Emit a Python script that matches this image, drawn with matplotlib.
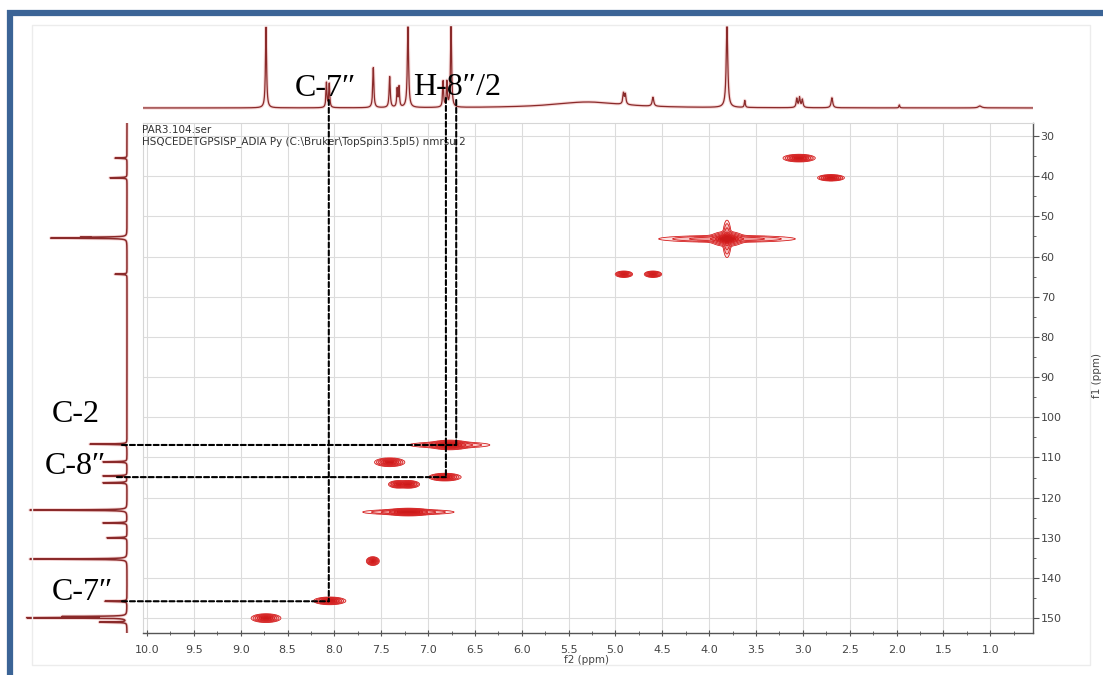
import numpy as np
import matplotlib
matplotlib.use("Agg")
import matplotlib.pyplot as plt
from matplotlib.patches import ConnectionPatch, Rectangle
from matplotlib.lines import Line2D
from matplotlib.ticker import MultipleLocator

W, H, DPI = 1103, 675, 100

# ---- 1H projection (f2): shift ppm, height, half-width ppm ----
h1_shift = [8.73, 8.085, 8.055, 7.585, 7.41, 7.33, 7.31, 7.215, 6.84, 6.80, 6.755,
            5.30, 4.915, 4.895, 4.60, 3.81, 3.62, 3.065, 3.035, 3.005, 2.69, 1.97, 1.11]
h1_height = [81, 25, 24, 40, 31, 18, 20, 81, 26, 25, 81,
             6, 11, 10, 9, 81, 7, 9, 10, 8, 10, 3, 2]
h1_width = [0.007, 0.006, 0.006, 0.007, 0.007, 0.006, 0.006, 0.008, 0.006, 0.006, 0.007,
            0.45, 0.008, 0.008, 0.010, 0.010, 0.006, 0.008, 0.008, 0.008, 0.010, 0.005, 0.02]

# ---- 13C projection (f1): shift ppm, height ----
c13_shift = [35.5, 40.4, 55.2, 55.4, 64.4, 106.7, 111.1, 114.6, 116.3, 123.1, 126.3,
             130.0, 135.3, 145.8, 149.6, 149.9, 151.0]
c13_height = [12, 17, 39, 72, 12, 37, 24, 24, 24, 97, 24,
              20, 97, 22, 60, 97, 27]
c13_width = 0.07

# ---- HSQC cross peaks: f2 ppm, f1 ppm, amplitude, sigma f2, sigma f1 ----
xp_h = [3.04, 2.70, 3.81, 3.81, 3.81, 4.91, 4.60, 6.77, 6.77, 7.41, 6.82, 7.32, 7.21,
        7.21, 7.21, 7.59, 8.05, 8.73]
xp_c = [35.5, 40.4, 55.6, 55.6, 55.6, 64.4, 64.4, 106.9, 106.9, 111.2, 114.9, 116.7, 116.7,
        123.6, 123.6, 135.8, 145.7, 150.0]
xp_amp = [1.0, 1.0, 1.0, 0.30, 0.35, 1.0, 1.0, 1.0, 0.30, 1.0, 1.0, 0.8, 1.0,
          1.0, 0.35, 1.0, 1.0, 1.0]
xp_sh = [0.065, 0.054, 0.07, 0.34, 0.02, 0.035, 0.035, 0.08, 0.20, 0.061, 0.065, 0.04, 0.045,
         0.09, 0.22, 0.026, 0.065, 0.06]
xp_sc = [0.36, 0.30, 0.7, 0.40, 2.1, 0.30, 0.30, 0.45, 0.35, 0.41, 0.36, 0.36, 0.36,
         0.36, 0.30, 0.41, 0.36, 0.41]

# ---- annotations: f2 ppm, f1 ppm, top of line (1H trace units), start (13C trace units) ----
ann_h = [8.06, 6.81, 6.70]
ann_c = [145.8, 114.9, 106.9]
ann_top = [8, 10, 8]
ann_left = [5, 10, 5]

labels = ["C-7\u2033", "H-8\u2033/2", "C-2", "C-8\u2033", "C-7\u2033"]
label_xy = [(295, 96), (413, 95), (52, 422), (45, 474), (52, 600)]

XLIM = (10.043, 0.544)
YLIM = (153.7, 26.76)

fig = plt.figure(figsize=(W / DPI, H / DPI), dpi=DPI)
fig.patch.set_facecolor("white")

def px_box(x0, y0, x1, y1):
    return [x0 / W, 1 - y1 / H, (x1 - x0) / W, (y1 - y0) / H]

# ---- main HSQC panel ----
ax = fig.add_axes(px_box(143, 123, 1033, 633))
ax.set_xlim(*XLIM)
ax.set_ylim(*YLIM)

f2 = np.arange(XLIM[1], XLIM[0], 0.004)
f1 = np.arange(YLIM[1], YLIM[0], 0.1)
Z = np.zeros((f1.size, f2.size))
for h, c, a, sh, sc in zip(xp_h, xp_c, xp_amp, xp_sh, xp_sc):
    gh = np.exp(-0.5 * ((f2 - h) / sh) ** 2)
    gc = np.exp(-0.5 * ((f1 - c) / sc) ** 2)
    Z += a * np.outer(gc, gh)

levels = [0.03, 0.07, 0.15, 0.30, 0.50, 0.75, 5.0]
fills = ["#fde6e6", "#f8c4c4", "#f19a9a", "#e86464", "#de3a3a", "#cc1a1a"]
ax.contourf(f2, f1, Z, levels=levels, colors=fills, zorder=2)
ax.contour(f2, f1, Z, levels=levels[:-1], colors="#d42020", linewidths=0.6, zorder=3)

ax.xaxis.set_major_locator(MultipleLocator(0.5))
ax.xaxis.set_minor_locator(MultipleLocator(0.25))
ax.yaxis.set_major_locator(MultipleLocator(10))
ax.yaxis.set_minor_locator(MultipleLocator(5))
ax.xaxis.set_major_formatter(matplotlib.ticker.FormatStrFormatter("%.1f"))
ax.yaxis.tick_right()
ax.grid(True, which="major", color="#dcdcdc", lw=0.8, zorder=0)
ax.set_axisbelow(True)
for s in ("left", "top"):
    ax.spines[s].set_color("#d6d6d6")
    ax.spines[s].set_linewidth(0.8)
for s in ("right", "bottom"):
    ax.spines[s].set_color("#555555")
    ax.spines[s].set_linewidth(1.0)
ax.tick_params(axis="x", which="major", direction="inout", length=5, width=0.8,
               colors="#555555", labelcolor="#444444", labelsize=8, pad=6)
ax.tick_params(axis="x", which="minor", direction="inout", length=3, width=0.7, colors="#666666")
ax.tick_params(axis="y", which="major", direction="out", length=4, width=0.8,
               colors="#555555", labelcolor="#444444", labelsize=8, pad=1.5)
ax.tick_params(axis="y", which="minor", direction="out", length=2.5, width=0.7, colors="#666666")

fig.text(587 / W, 1 - 660 / H, "f2 (ppm)", ha="center", va="center", fontsize=7.5, color="#444444")
fig.text(1097 / W, 1 - 375 / H, "f1 (ppm)", ha="center", va="center", rotation=90,
         fontsize=7.5, color="#444444")
fig.text(142 / W, 1 - 130 / H, "PAR3.104.ser", ha="left", va="center", fontsize=7.5, color="#333333")
fig.text(142 / W, 1 - 142 / H, "HSQCEDETGPSISP_ADIA Py (C:\\Bruker\\TopSpin3.5pl5) nmrsu 2",
         ha="left", va="center", fontsize=7.5, color="#333333")

# ---- 1H trace on top ----
ax_top = fig.add_axes(px_box(143, 20, 1033, 112))
ax_top.set_xlim(*XLIM)
ax_top.set_ylim(-4, 88)
ax_top.axis("off")
x1h = np.arange(XLIM[1], XLIM[0], 0.0015)
y1h = np.zeros_like(x1h)
for s, hgt, w in zip(h1_shift, h1_height, h1_width):
    y1h += hgt * w ** 2 / ((x1h - s) ** 2 + w ** 2)
ax_top.plot(x1h, y1h, color="#f0b8b8", lw=2.4, alpha=0.55, solid_joinstyle="round")
ax_top.plot(x1h, y1h, color="#8a2a2a", lw=0.9)

# ---- 13C trace on the left ----
ax_left = fig.add_axes(px_box(20, 123, 130, 633))
ax_left.set_ylim(*YLIM)
ax_left.set_xlim(107, -3)
ax_left.axis("off")
y13 = np.arange(YLIM[1], YLIM[0], 0.01)
x13 = np.zeros_like(y13)
for s, hgt in zip(c13_shift, c13_height):
    x13 += hgt * c13_width ** 2 / ((y13 - s) ** 2 + c13_width ** 2)
ax_left.plot(x13, y13, color="#f0b8b8", lw=2.4, alpha=0.55)
ax_left.plot(x13, y13, color="#8a2a2a", lw=1.1)

# ---- dashed correlation guides ----
dash = dict(color="black", lw=1.5, linestyle=(0, (2.4, 1.4)), zorder=10)
for h, c, yt, xl in zip(ann_h, ann_c, ann_top, ann_left):
    fig.add_artist(ConnectionPatch(xyA=(h, yt), coordsA="data", axesA=ax_top,
                                   xyB=(h, c), coordsB="data", axesB=ax, **dash))
    fig.add_artist(ConnectionPatch(xyA=(xl, c), coordsA="data", axesA=ax_left,
                                   xyB=(h, c), coordsB="data", axesB=ax, **dash))

for txt, (lx, ly) in zip(labels, label_xy):
    fig.text(lx / W, 1 - ly / H, txt, ha="left", va="baseline", fontsize=23,
             family=["Liberation Serif", "DejaVu Serif"], color="black", zorder=11)

# ---- page frame ----
fig.add_artist(Rectangle((32 / W, 1 - 665 / H), (1090 - 32) / W, (665 - 25) / H,
                         transform=fig.transFigure, fill=False, ec="#ececec", lw=1.0))
fig.add_artist(Line2D([10 / W, 10 / W], [0, 1 - 10 / H], transform=fig.transFigure,
                      color="#3b6496", lw=4.5, solid_capstyle="butt"))
fig.add_artist(Line2D([7 / W, 1], [1 - 13 / H, 1 - 13 / H], transform=fig.transFigure,
                      color="#3b6496", lw=4.5, solid_capstyle="butt"))

fig.savefig("out.png", dpi=DPI, facecolor="white")
